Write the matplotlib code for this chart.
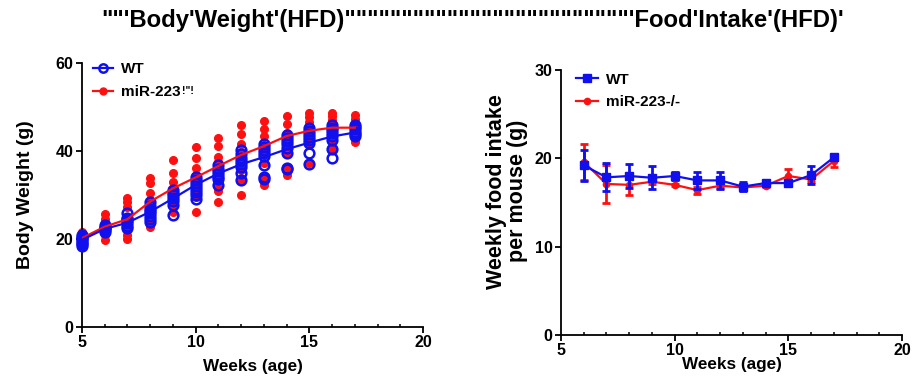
import matplotlib
matplotlib.use("Agg")
import matplotlib.pyplot as plt
from matplotlib.ticker import MultipleLocator
from matplotlib.lines import Line2D
import numpy as np

plt.rcParams['font.family'] = ['Liberation Sans', 'DejaVu Sans']
plt.rcParams['font.weight'] = 'bold'

BLUE = '#1010ee'
RED = '#ff1010'

# ---------------- Body weight data ----------------
weeks_bw = [5, 6, 7, 8, 9, 10, 11, 12, 13, 14, 15, 16, 17]
wt_mean_bw = [19.8, 22.3, 23.7, 26.2, 29.2, 32.3, 34.9, 37.0, 38.6, 40.4, 41.9, 43.3, 44.2]
ko_mean_bw = [20.2, 22.8, 24.5, 28.5, 31.5, 34.0, 36.6, 39.1, 41.1, 43.4, 44.6, 45.3, 45.3]

wt_points = {
    5: [21.0, 20.5, 20.0, 19.6, 19.2, 18.8, 18.3, 20.3],
    6: [23.2, 22.8, 22.4, 22.0, 21.6, 22.6],
    7: [25.8, 24.8, 24.2, 23.6, 23.0, 22.4, 24.5],
    8: [28.5, 27.5, 26.8, 26.0, 25.2, 24.5, 23.9, 26.4],
    9: [31.2, 30.5, 29.9, 29.3, 28.6, 27.8, 25.5],
    10: [34.2, 33.5, 32.8, 32.1, 31.4, 30.7, 29.9, 29.2],
    11: [36.8, 36.0, 35.4, 34.8, 34.2, 33.6, 32.2],
    12: [40.2, 39.3, 38.5, 37.8, 37.1, 36.3, 34.9, 33.4],
    13: [41.7, 41.0, 40.3, 39.6, 38.8, 36.8, 34.2, 33.6],
    14: [43.6, 42.9, 42.2, 41.5, 40.7, 39.5, 36.2, 35.8],
    15: [45.2, 44.5, 43.8, 43.1, 42.4, 41.8, 39.6, 37.0],
    16: [45.9, 45.3, 44.7, 44.0, 43.3, 42.5, 40.4, 38.3],
    17: [45.9, 45.4, 44.9, 44.4, 43.9, 43.5],
}
ko_points = {
    5: [21.5, 21.0, 20.6, 20.2, 19.8, 19.4, 18.9],
    6: [25.7, 24.5, 23.9, 23.0, 22.4, 21.6, 20.9, 19.8],
    7: [29.4, 28.3, 27.3, 25.1, 23.9, 23.2, 22.5, 20.9, 19.9],
    8: [33.8, 32.7, 30.5, 28.9, 27.7, 26.6, 25.1, 23.9, 22.8],
    9: [38.0, 35.1, 33.0, 31.1, 29.6, 28.7, 27.7, 26.2],
    10: [40.8, 38.3, 36.1, 34.5, 33.6, 32.7, 31.1, 29.6, 26.2],
    11: [43.0, 41.1, 38.7, 37.5, 36.4, 35.2, 34.2, 32.3, 30.8, 28.5],
    12: [45.8, 43.8, 41.7, 39.8, 38.6, 37.6, 35.7, 33.4, 30.0],
    13: [46.9, 44.9, 43.3, 41.4, 40.4, 39.5, 37.2, 33.8, 32.3],
    14: [48.0, 46.1, 44.0, 42.5, 41.0, 39.5, 36.4, 34.5],
    15: [48.6, 47.7, 46.7, 45.7, 44.4, 43.4, 41.7, 37.2],
    16: [48.7, 48.0, 47.0, 45.9, 44.8, 43.6, 42.5, 40.4],
    17: [48.2, 47.2, 45.9, 44.0, 42.1],
}

# ---------------- Food intake data ----------------
weeks_fi = [6, 7, 8, 9, 10, 11, 12, 13, 14, 15, 16, 17]
wt_fi = [19.2, 17.85, 18.0, 17.8, 18.0, 17.5, 17.5, 16.8, 17.2, 17.2, 18.1, 20.1]
wt_fi_err = [1.8, 1.6, 1.4, 1.3, 0.4, 1.0, 1.0, 0.5, 0.2, 0.1, 1.05, 0.3]
ko_fi = [19.6, 17.1, 17.0, 17.35, 17.0, 16.4, 16.9, 16.7, 16.9, 18.0, 17.6, 19.7]
ko_fi_err = [2.0, 2.2, 1.1, 0.3, 0.1, 0.4, 0.3, 0.3, 0.2, 0.8, 0.3, 0.7]

title_text = "\"\"'Body'Weight'(HFD)" + "\"" * 25 + "'Food'Intake'(HFD)'"
ko_label_left = 'miR-223'
ko_label_sup = '!"!'

fig = plt.figure(figsize=(9.14, 3.81), dpi=100)

def style(ax):
    for s in ['top', 'right']:
        ax.spines[s].set_visible(False)
    for s in ['left', 'bottom']:
        ax.spines[s].set_linewidth(1.3)
    ax.tick_params(axis='both', which='major', direction='out', length=4, width=1.3,
                   labelsize=11.5, pad=2)
    ax.tick_params(axis='x', which='minor', direction='in', length=2.5, width=1.1)
    ax.xaxis.set_major_locator(MultipleLocator(5))
    ax.xaxis.set_minor_locator(MultipleLocator(1))
    ax.set_xlim(5, 20)
    for lab in ax.get_xticklabels() + ax.get_yticklabels():
        lab.set_fontweight('bold')

# ---------------- Left panel ----------------
ax1 = fig.add_axes([82/914, 1-327/381, 341/914, 264/381])
for w in weeks_bw:
    pts = ko_points[w]
    ax1.plot([w]*len(pts), pts, 'o', color=RED, ms=5.5, mec=RED, zorder=2, clip_on=False)
for w in weeks_bw:
    pts = wt_points[w]
    ax1.plot([w]*len(pts), pts, 'o', mfc='none', mec=BLUE, mew=1.8, ms=7, zorder=3, clip_on=False)
ax1.plot(weeks_bw, ko_mean_bw, '-', color=RED, lw=1.6, zorder=4)
ax1.plot(weeks_bw, wt_mean_bw, '-', color=BLUE, lw=1.6, zorder=5)
ax1.set_ylim(0, 60)
ax1.yaxis.set_major_locator(MultipleLocator(20))
style(ax1)
ax1.set_xlabel('Weeks (age)', fontsize=12.3, fontweight='bold', labelpad=6)
ax1.set_ylabel('Body Weight (g)', fontsize=14, fontweight='bold', labelpad=16)
h1 = Line2D([], [], marker='o', color=BLUE, mfc='none', mec=BLUE, mew=1.8, ms=6, lw=1.6)
h2 = Line2D([], [], marker='o', color=RED, ms=5, lw=1.6)
leg1 = ax1.legend([h1, h2], ['WT', ko_label_left], loc='upper left',
                  bbox_to_anchor=(0.0, 1.044), frameon=False, fontsize=11,
                  handlelength=1.3, handletextpad=0.55, labelspacing=0.6, borderaxespad=0.3)
for t in leg1.get_texts():
    t.set_fontweight('bold')

# ---------------- Right panel ----------------
ax2 = fig.add_axes([561/914, 1-335/381, 341/914, 265/381])
ax2.errorbar(weeks_fi, ko_fi, yerr=ko_fi_err, fmt='-o', color=RED, ms=4.5, lw=1.6,
             elinewidth=2, capsize=3.2, capthick=2, zorder=3)
ax2.errorbar(weeks_fi, wt_fi, yerr=wt_fi_err, fmt='-s', color=BLUE, ms=5.5, lw=1.6,
             elinewidth=2, capsize=3.2, capthick=2, zorder=4)
ax2.set_ylim(0, 30)
ax2.yaxis.set_major_locator(MultipleLocator(10))
style(ax2)
ax2.set_xlabel('Weeks (age)', fontsize=12.3, fontweight='bold', labelpad=-1)
ax2.set_ylabel('Weekly food intake\nper mouse (g)', fontsize=15.5, fontweight='bold',
               linespacing=1.0)
ax2.yaxis.set_label_coords(-0.097, 0.543)
g1 = Line2D([], [], marker='s', color=BLUE, ms=5.5, lw=1.6)
g2 = Line2D([], [], marker='o', color=RED, ms=4.5, lw=1.6)
leg2 = ax2.legend([g1, g2], ['WT', 'miR-223-/-'], loc='upper left',
                  bbox_to_anchor=(0.0, 1.048), frameon=False, fontsize=11,
                  handlelength=1.4, handletextpad=0.55, labelspacing=0.55, borderaxespad=0.6)
for t in leg2.get_texts():
    t.set_fontweight('bold')

fig.text(473/914, 1-20/381, title_text, ha='center', va='center', fontsize=17.2,
         fontweight='bold', family=['Liberation Sans', 'DejaVu Sans'])

# superscript after the left legend's second label
fig.canvas.draw()
r = fig.canvas.get_renderer()
bb = leg1.get_texts()[1].get_window_extent(r)
fig.text((bb.x1 + 1) / fig.bbox.width, (bb.y1 - 1) / fig.bbox.height, ko_label_sup,
         ha='left', va='top', fontsize=7.5, fontweight='bold')

fig.savefig('out.png', dpi=100)
